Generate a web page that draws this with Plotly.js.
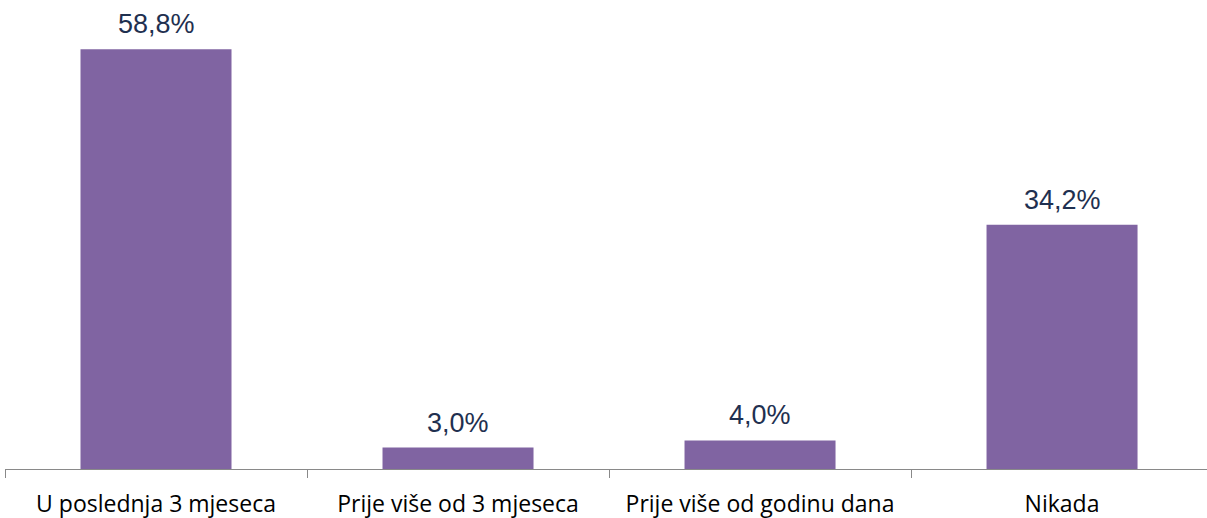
<!DOCTYPE html>
<html>
<head>
<meta charset="utf-8">
<script src="https://cdn.plot.ly/plotly-3.0.1.min.js"></script>
<style>html,body{margin:0;padding:0;background:#fff;}#chart{width:1207px;height:518px;}</style>
</head>
<body>
<div id="chart"></div>
<script>
const categories = ["U poslednja 3 mjeseca", "Prije više od 3 mjeseca", "Prije više od godinu dana", "Nikada"];
const values = [58.8, 3.0, 4.0, 34.2];

const trace = {
  type: "bar",
  x: categories,
  y: values,
  width: 0.5,
  marker: {color: "#8064A2"},
  hoverinfo: "none"
};

const annotations = categories.map((c, i) => ({
  x: c,
  y: values[i],
  xref: "x",
  yref: "y",
  text: values[i].toFixed(1).replace(".", ",") + "%",
  showarrow: false,
  yanchor: "bottom",
  yshift: 8,
  font: {family: "Liberation Sans, Arial, sans-serif", size: 27, color: "#1F3050"}
}));

const layout = {
  width: 1207,
  height: 518,
  margin: {l: 5, r: 0, t: 5, b: 49},
  paper_bgcolor: "#ffffff",
  plot_bgcolor: "#ffffff",
  showlegend: false,
  annotations: annotations,
  xaxis: {
    type: "category",
    range: [-0.5, 3.48],
    showline: true,
    linecolor: "#898989",
    linewidth: 1,
    ticks: "outside",
    tickson: "boundaries",
    ticklen: 8,
    tickcolor: "#898989",
    ticklabelstandoff: 14,
    showgrid: false,
    zeroline: false,
    tickfont: {family: "Open Sans, sans-serif", size: 23, color: "#000000"},
    fixedrange: true
  },
  yaxis: {
    range: [0, 65],
    visible: false,
    showgrid: false,
    zeroline: false,
    fixedrange: true
  }
};

Plotly.newPlot("chart", [trace], layout, {displayModeBar: false, staticPlot: true});
</script>
</body>
</html>
